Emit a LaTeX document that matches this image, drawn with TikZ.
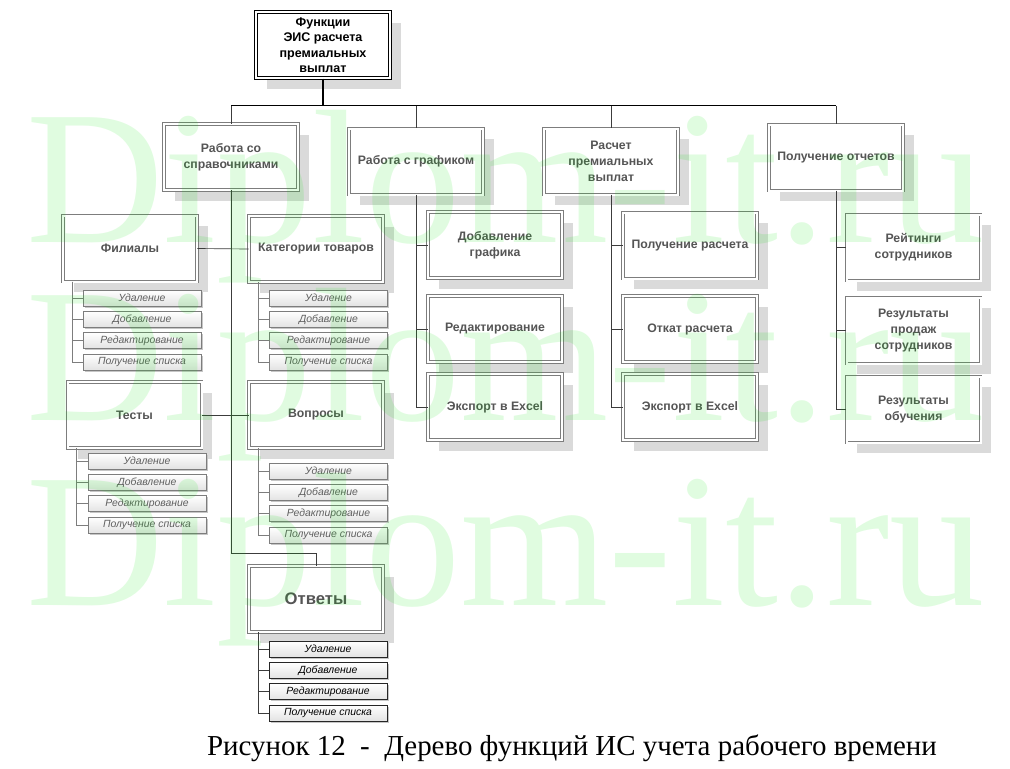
\documentclass[tikz,border=0pt]{standalone}
\usepackage{fontspec}
\setmainfont{Liberation Sans}
\newfontfamily\captionserif{Liberation Serif}
\usetikzlibrary{shadows}

\definecolor{boxtext}{RGB}{85,85,85}
\definecolor{boxline}{RGB}{125,125,125}
\definecolor{shadegray}{RGB}{218,218,218}
\definecolor{itemtext}{RGB}{95,95,95}
\definecolor{trunkline}{RGB}{60,60,60}
\definecolor{wmgreen}{RGB}{0,230,0}

\tikzset{
    func/.style={draw=boxline, double=white, double distance=1.5pt, line width=0.55pt,
        fill=white, inner sep=2pt, align=center, text=boxtext,
        minimum width=100.5pt, minimum height=49.5pt,
        font=\bfseries\fontsize{9.2}{12}\selectfont,
        drop shadow={shadow xshift=8pt, shadow yshift=-8pt, fill=shadegray, opacity=1}},
    topfunc/.style={func, draw=black, line width=0.8pt, double distance=1.2pt,
        text=black, font=\bfseries\fontsize{9.4}{11.6}\selectfont},
    oper/.style={draw=boxline, line width=0.5pt, top color=white, bottom color=gray!22,
        minimum width=88.5pt, minimum height=12pt, inner sep=0pt, text=itemtext,
        font=\itshape\fontsize{7.8}{9}\selectfont,
        drop shadow={shadow xshift=1.2pt, shadow yshift=-1.2pt, fill=gray!45, opacity=1}},
    operdark/.style={oper, draw=black!85, text=black},
    stem/.style={draw=black, line width=1.4pt},
    busline/.style={draw=black, line width=0.9pt},
    link/.style={draw=trunkline, line width=0.5pt},
    branch/.style={draw=boxline, line width=0.5pt},
    watermark/.style={text=wmgreen, text opacity=0.12, anchor=base west, inner sep=0pt,
        font=\captionserif\fontsize{143}{143}\selectfont}
}

\begin{document}
\begin{tikzpicture}[x=0.75pt, y=-0.75pt]
    \useasboundingbox (0,0) rectangle (1010,768);

    % Nodes
    \node at (323,45) (top) [topfunc] {Функции\\ЭИС расчета\\премиальных\\выплат};

    \node at (231,157) (sprav) [func] {Работа со\\справочниками};
    \node at (416,161.5) (graf) [func] {Работа с графиком};
    \node at (611,161.5) (rasch) [func] {Расчет\\премиальных\\выплат};
    \node at (836,157.5) (otch) [func] {Получение отчетов};

    \node at (130,248.5) (fil) [func] {Филиалы};
    \node at (316,249) (kat) [func] {Категории товаров};
    \node at (134.5,415) (test) [func] {Тесты};
    \node at (316,415) (vopr) [func] {Вопросы};
    \node at (316,599) (otv) [func, font=\bfseries\fontsize{12.5}{14}\selectfont] {Ответы};

    \node at (495,245) (dobgr) [func] {Добавление\\графика};
    \node at (495,329) (redgr) [func] {Редактирование};
    \node at (495,407) (expgr) [func] {Экспорт в Excel};

    \node at (690,245.5) (polr) [func] {Получение расчета};
    \node at (690,329) (otkat) [func] {Откат расчета};
    \node at (690,407) (expr) [func] {Экспорт в Excel};

    \node at (913.5,247.5) (rejt) [func] {Рейтинги\\сотрудников};
    \node at (913.5,330.5) (prod) [func] {Результаты\\продаж\\сотрудников};
    \node at (913.5,409.5) (obuch) [func] {Результаты\\обучения};

    % Operations under the reference books
    \foreach \b/\bx/\by in {fil/142/276.7, kat/328.5/276.7, test/147/439.7, vopr/328.5/449.7}{
        \foreach \t [count=\i] in {Удаление,Добавление,Редактирование,Получение списка}
            \node at (\bx,\by+21.3*\i) (\b\i) [oper] {\t};
    }
    \foreach \t [count=\i] in {Удаление,Добавление,Редактирование,Получение списка}
        \node at (328,627.7+21.3*\i) (otv\i) [operdark] {\t};

    % Connectors
    \draw[stem] (top.south) -- ++(0,27) coordinate (bus);
    \draw[busline] (sprav.north |- bus) -- (otch.north |- bus);
    \foreach \n in {sprav,graf,rasch,otch}
        \draw[link] (\n.north |- bus) -- (\n.north);

    \draw[link] (sprav.south) |- ([yshift=9pt]otv.north) -- (otv.north);
    \draw[link] (fil.east) -- (kat.west);
    \draw[link] (test.east) -- (vopr.west);

    \foreach \n in {dobgr,redgr,expgr}
        \draw[link] (graf.south) |- (\n.west);
    \foreach \n in {polr,otkat,expr}
        \draw[link] (rasch.south) |- (\n.west);
    \foreach \n in {rejt,prod,obuch}
        \draw[link] (otch.south) |- (\n.west);

    \foreach \b in {fil,kat,test,vopr}{
        \foreach \i in {1,...,4}
            \draw[branch] ([xshift=7pt]\b.south west) |- (\b\i.west);
    }
    \foreach \i in {1,...,4}
        \draw[link] ([xshift=7pt]otv.south west) |- (otv\i.west);

    % Caption
    \node at (572,755) (caption) [anchor=base, font=\captionserif\fontsize{21.7}{26}\selectfont]
        {Рисунок 12~~-~~Дерево функций ИС учета рабочего времени};

    % Watermark
    \foreach \wy [count=\k] in {242,420,605}
        \node at (26,\wy) (wm\k) [watermark] {Diplom-it.ru};
\end{tikzpicture}
\end{document}
